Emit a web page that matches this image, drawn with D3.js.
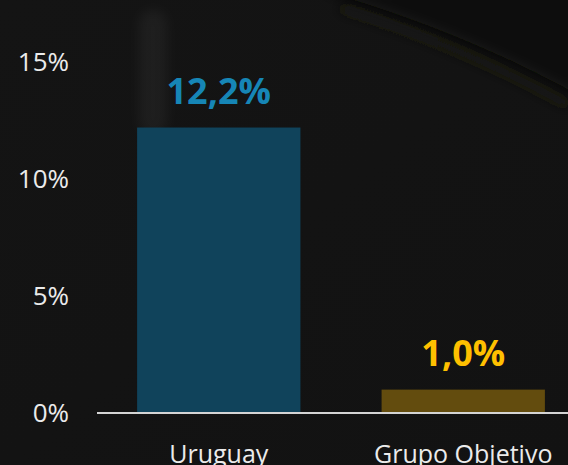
<!DOCTYPE html>
<html>
<head>
<meta charset="utf-8">
<script src="https://cdn.jsdelivr.net/npm/d3@7"></script>
<style>
    body { margin: 0; background: #131313; }
    svg { display: block; }
</style>
</head>
<body>
<div id="chart"></div>
<script>
// data
var categories = ["Uruguay", "Grupo Objetivo"];
var values = [12.2, 1.0];
var valueLabels = ["12,2%", "1,0%"];
var yTicks = [0, 5, 10, 15];

var barColors = ["#10435b", "#634c0e"];
var labelColors = ["#1686b6", "#ffc000"];

var width = 568;
var height = 465;

var svg = d3.select("#chart")
    .append("svg")
    .attr("width", width)
    .attr("height", height);

// faint photo-like background
var defs = svg.append("defs");
var grad = defs.append("linearGradient")
    .attr("id", "bgGrad")
    .attr("x1", "0").attr("y1", "0")
    .attr("x2", "1").attr("y2", "1");
grad.append("stop").attr("offset", "0").attr("stop-color", "#141414");
grad.append("stop").attr("offset", "1").attr("stop-color", "#121212");

var blur = defs.append("filter").attr("id", "soft")
    .attr("x", "-50%").attr("y", "-50%")
    .attr("width", "200%").attr("height", "200%");
blur.append("feGaussianBlur").attr("stdDeviation", 6);

svg.append("rect")
    .attr("width", width)
    .attr("height", height)
    .attr("fill", "url(#bgGrad)");

svg.append("path")
    .attr("d", "M 320 -10 L 578 -10 L 578 95 Q 460 30 320 -10 Z")
    .attr("fill", "#0a0b07")
    .attr("filter", "url(#soft)");

svg.append("path")
    .attr("d", "M 340 8 Q 460 45 568 105")
    .attr("fill", "none")
    .attr("stroke", "#1a1a14")
    .attr("stroke-width", 5)
    .attr("filter", "url(#soft)");

svg.append("rect")
    .attr("x", 139).attr("y", 10)
    .attr("width", 28).attr("height", 125)
    .attr("rx", 14)
    .attr("fill", "#ffffff")
    .attr("opacity", 0.045)
    .attr("filter", "url(#soft)");

// scales
var x_scale = d3.scaleBand()
    .domain(categories)
    .range([97, 585])
    .paddingInner(0.332)
    .paddingOuter(0.164);

var y_scale = d3.scaleLinear()
    .domain([0, 15])
    .range([413, 62]);

// bars
svg.selectAll(".bar")
    .data(values)
    .enter()
    .append("rect")
    .attr("class", "bar")
    .attr("x", function(d, i) { return x_scale(categories[i]); })
    .attr("width", x_scale.bandwidth())
    .attr("y", function(d) { return y_scale(d); })
    .attr("height", function(d) { return y_scale(0) - y_scale(d); })
    .attr("fill", function(d, i) { return barColors[i]; });

// value labels
svg.selectAll(".vlabel")
    .data(values)
    .enter()
    .append("text")
    .attr("class", "vlabel")
    .attr("x", function(d, i) { return x_scale(categories[i]) + x_scale.bandwidth() / 2; })
    .attr("y", function(d) { return y_scale(d) - 24; })
    .attr("text-anchor", "middle")
    .attr("font-family", "'Open Sans', sans-serif")
    .attr("font-weight", "bold")
    .attr("font-size", 36)
    .attr("fill", function(d, i) { return labelColors[i]; })
    .text(function(d, i) { return valueLabels[i]; });

// y axis (labels only)
var y_axis = d3.axisLeft(y_scale)
    .tickValues(yTicks)
    .tickSize(0)
    .tickPadding(0)
    .tickFormat(function(d) { return d + "%"; });

svg.append("g")
    .attr("class", "y axis")
    .attr("transform", "translate(69,0)")
    .call(y_axis)
    .call(function(g) { g.select(".domain").remove(); })
    .selectAll("text")
    .attr("font-family", "'Open Sans', sans-serif")
    .attr("font-size", 26)
    .attr("fill", "#ebebeb");

// x axis
var x_axis = d3.axisBottom(x_scale)
    .tickSize(0)
    .tickPadding(32);

var xg = svg.append("g")
    .attr("class", "x axis")
    .attr("transform", "translate(0,413)")
    .call(x_axis);

xg.select(".domain").remove();

xg.append("line")
    .attr("x1", 97)
    .attr("x2", width)
    .attr("stroke", "#d4d4d4")
    .attr("stroke-width", 2);

xg.selectAll("text")
    .attr("font-family", "'Open Sans', sans-serif")
    .attr("font-size", 25)
    .attr("fill", "#ebebeb");
</script>
</body>
</html>
